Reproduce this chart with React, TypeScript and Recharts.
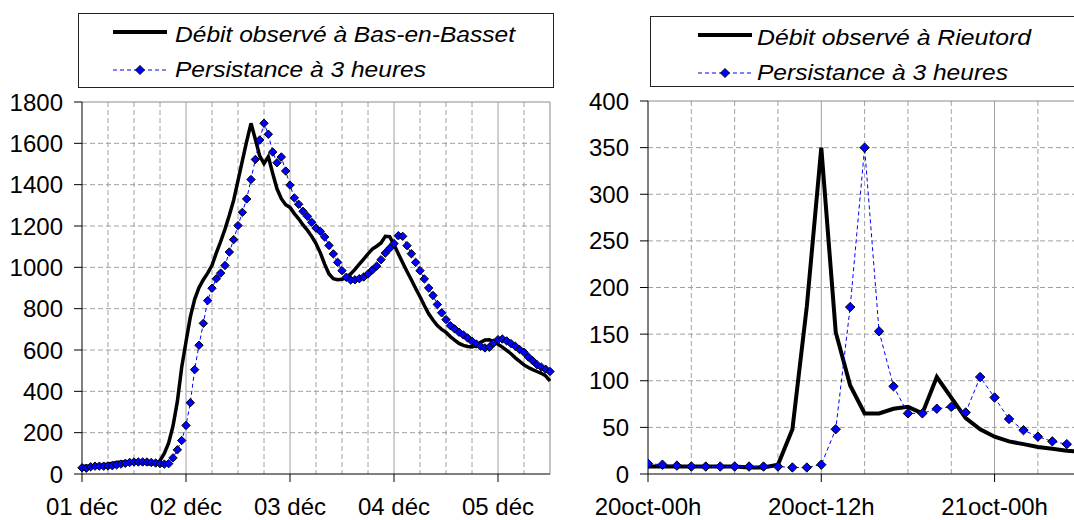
import { CartesianGrid, Line, LineChart, ReferenceLine, XAxis, YAxis } from 'recharts';

const font = '"Liberation Sans", Arial, sans-serif';

// Bas-en-Basset, hourly from 01 déc 00h
const leftObserved = [
    38, 38, 38, 39, 40, 44, 48, 52, 56, 58, 58, 58, 58, 56, 53, 50, 48, 50,
    65, 100, 150, 232, 350, 515, 640, 760, 845, 902, 940, 972, 1010,
    1070, 1125, 1185, 1252, 1325, 1420, 1515, 1610, 1697, 1620, 1540, 1502, 1536, 1455, 1380, 1332, 1303,
    1290, 1260, 1235, 1205, 1180, 1150, 1115, 1070, 1015, 968, 945, 940, 942, 950, 968, 990, 1015, 1040,
    1065, 1088, 1102, 1118, 1150, 1148, 1110,
    1066, 1022, 980, 940, 898, 858, 815, 775, 745, 718, 700, 685, 665, 648, 632, 622, 617,
    615, 622, 638, 648, 650, 640, 628, 614, 598, 582, 562, 545, 528, 515, 505, 496, 487, 475, 450,
];
const leftPersistence = [
    30, 28, 35, 38, 38, 38, 39, 40, 44, 48, 52, 56, 58, 58, 58, 58, 56, 53, 50, 48, 50,
    78, 117, 162, 235, 345, 505, 623, 729, 839, 899, 945, 972, 1009, 1074, 1134, 1202, 1266, 1331,
    1425, 1522, 1616, 1697, 1644, 1558, 1506, 1534, 1466, 1398, 1336, 1305, 1271, 1247, 1218, 1190,
    1174, 1147, 1106, 1065, 1024, 984, 952, 939, 940, 945, 953, 968, 987, 1006, 1037, 1069, 1092,
    1115, 1153, 1150, 1105, 1066, 1024, 984, 944, 900, 864, 820, 780, 747, 718, 702, 686, 673, 658,
    642, 629, 618, 610, 613, 634, 650, 653, 644, 631, 618, 602, 589, 566, 548, 529, 517, 507, 496,
];
const leftDayLabels = ['01 déc', '02 déc', '03 déc', '04 déc', '05 déc'];
const leftYTicks = [0, 200, 400, 600, 800, 1000, 1200, 1400, 1600, 1800];

// Rieutord, hourly from 20 oct 00h
const rightObserved = [
    8, 8, 8, 8, 8, 8, 8, 7, 7, 10, 48, 180, 350, 152, 95, 65, 65, 70, 72, 65, 104, 82, 60, 48, 40,
    35, 32, 29, 27, 25, 24,
];
const rightPersistence = [
    11, 10, 9, 8, 8, 8, 8, 8, 8, 8, 7, 7, 10, 48, 179, 350, 153, 94, 65, 65, 70, 72, 66, 104, 82,
    59, 47, 40, 35, 32, 29,
];
const rightTickLabels = ['20oct-00h', '20oct-12h', '21oct-00h'];
const rightYTicks = [0, 50, 100, 150, 200, 250, 300, 350, 400];

const leftRows = leftObserved.map((v, i) => ({ h: i, obs: v, pers: leftPersistence[i] }));
const rightRows = rightObserved.map((v, i) => ({ h: i, obs: v, pers: rightPersistence[i] }));

const leftDayHours = leftDayLabels.map((_, i) => i * 24);
const leftMinorX = Array.from({ length: 18 }, (_, i) => i * 6).filter((h) => h % 24 !== 0);
const rightTickHours = rightTickLabels.map((_, i) => i * 12);
const rightMinorX = Array.from({ length: 10 }, (_, i) => i * 3).filter((h) => h % 12 !== 0);

const tickStyle = { fill: '#000', fontSize: 24, fontFamily: font };

function Diamond(props: any) {
    const { cx, cy, r } = props;
    if (cx == null || cy == null) return null;
    return (
        <polygon
            points={`${cx},${cy - r} ${cx + r},${cy} ${cx},${cy + r} ${cx - r},${cy}`}
            fill="#0000ff"
            stroke="#000"
            strokeWidth={1}
        />
    );
}

function LegendBox({ x, y, w, h, name, lineX, textX, textW1, textW2 }: any) {
    return (
        <svg style={{ position: 'absolute', left: 0, top: 0 }} width={1074} height={100}>
            <rect x={x + 0.5} y={y + 0.5} width={w} height={h} fill="#fff" stroke="#222" />
            <line x1={lineX} x2={lineX + 54} y1={y + 19} y2={y + 19} stroke="#000" strokeWidth={4} />
            <line x1={lineX} x2={lineX + 54} y1={y + 57} y2={y + 57} stroke="#0000ff" strokeWidth={1} strokeDasharray="4 3" />
            <Diamond cx={lineX + 27} cy={y + 57} r={4.5} />
            <text x={textX} y={y + 29} fontFamily={font} fontStyle="italic" fontSize={22}
                textLength={textW1} lengthAdjust="spacingAndGlyphs">{name}</text>
            <text x={textX} y={y + 64} fontFamily={font} fontStyle="italic" fontSize={22}
                textLength={textW2} lengthAdjust="spacingAndGlyphs">Persistance à 3 heures</text>
        </svg>
    );
}

function LeftChart() {
    return (
        <div style={{ position: 'absolute', left: 0, top: 0 }}>
            <LineChart width={560} height={520} data={leftRows} margin={{ top: 102, right: 10, bottom: 0, left: 0 }}>
                <CartesianGrid stroke="#a0a0a0" strokeDasharray="5 3"
                    horizontalValues={leftYTicks.slice(1, -1)} verticalValues={leftMinorX} />
                <CartesianGrid stroke="#a0a0a0" horizontal={false} verticalValues={leftDayHours.slice(1)} />
                <ReferenceLine y={1800} stroke="#8c8c8c" />
                <ReferenceLine x={108} stroke="#8c8c8c" />
                <XAxis type="number" dataKey="h" domain={[0, 108]} ticks={leftDayHours} interval={0}
                    tickFormatter={(v) => leftDayLabels[v / 24]} height={46} tickSize={8} tickMargin={16}
                    stroke="#000" tick={tickStyle} />
                <YAxis type="number" domain={[0, 1800]} ticks={leftYTicks} interval={0} width={82}
                    tickSize={8} tickMargin={11} stroke="#000" tick={tickStyle} />
                <Line type="linear" dataKey="obs" stroke="#000" strokeWidth={3.5} dot={false}
                    isAnimationActive={false} />
                <Line type="linear" dataKey="pers" stroke="#0000ff" strokeWidth={1} strokeDasharray="4 3"
                    dot={(p: any) => <Diamond key={p.index} cx={p.cx} cy={p.cy} r={4.2} />}
                    isAnimationActive={false} />
            </LineChart>
        </div>
    );
}

function RightChart() {
    return (
        <div style={{ position: 'absolute', left: 566, top: 0 }}>
            <LineChart width={508} height={520} data={rightRows} margin={{ top: 101, right: 0, bottom: 0, left: 0 }}>
                <CartesianGrid stroke="#a0a0a0" strokeDasharray="5 3"
                    horizontalValues={rightYTicks.slice(1, -1)} verticalValues={rightMinorX} />
                <CartesianGrid stroke="#a0a0a0" horizontal={false} verticalValues={rightTickHours.slice(1)} />
                <ReferenceLine y={400} stroke="#8c8c8c" />
                <XAxis type="number" dataKey="h" domain={[0, 29.5]} allowDataOverflow ticks={rightTickHours}
                    interval={0} tickFormatter={(v) => rightTickLabels[v / 12]} height={46} tickSize={8}
                    tickMargin={16} stroke="#000" tick={tickStyle} />
                <YAxis type="number" domain={[0, 400]} ticks={rightYTicks} interval={0} width={82}
                    tickSize={8} tickMargin={11} stroke="#000" tick={tickStyle} />
                <Line type="linear" dataKey="obs" stroke="#000" strokeWidth={4} dot={false}
                    isAnimationActive={false} />
                <Line type="linear" dataKey="pers" stroke="#0000ff" strokeWidth={1} strokeDasharray="4 3"
                    dot={(p: any) => <Diamond key={p.index} cx={p.cx} cy={p.cy} r={4.7} />}
                    isAnimationActive={false} />
            </LineChart>
        </div>
    );
}

export default function App() {
    return (
        <div style={{ position: 'relative', width: 1074, height: 520, overflow: 'hidden', background: '#fff' }}>
            <style>{'body { margin: 0; }'}</style>
            <LeftChart />
            <RightChart />
            <LegendBox x={78} y={13} w={475} h={74} name="Débit observé à Bas-en-Basset"
                lineX={113} textX={175} textW1={340} textW2={251} />
            <LegendBox x={650} y={16} w={440} h={70} name="Débit observé à Rieutord"
                lineX={698} textX={757} textW1={274} textW2={251} />
        </div>
    );
}
